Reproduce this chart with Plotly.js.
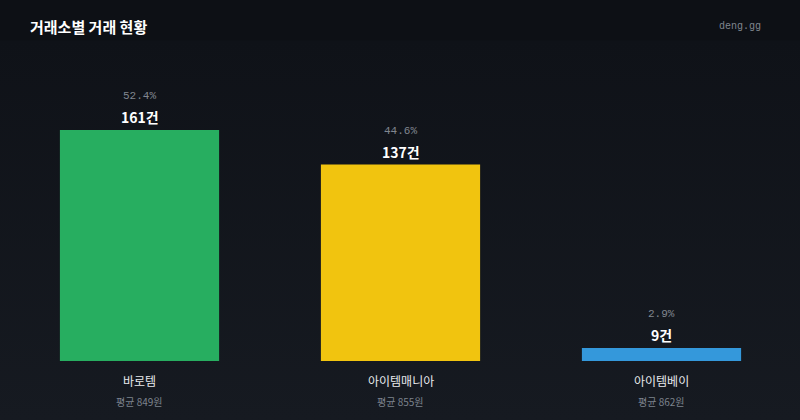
<!DOCTYPE html>
<html><head><meta charset="utf-8">
<script src="https://cdn.plot.ly/plotly-3.0.1.min.js"></script>
<style>
html,body{margin:0;padding:0;width:800px;height:420px;overflow:hidden;
background:linear-gradient(180deg,#0d1015 0px,#0d1015 40px,#0f1218 41px,#161a21 420px);}
#chart{width:800px;height:420px;}
</style></head>
<body><div id="chart"></div>
<script>
const categories = ['바로템', '아이템매니아', '아이템베이'];
const counts = [161, 137, 9];
const shares = ['52.4%', '44.6%', '2.9%'];
const avgPrices = [849, 855, 862];
const barColors = ['#27ae60', '#f1c40f', '#3498db'];

const font = '"Noto Sans CJK KR", "Noto Sans", sans-serif';
const mono = '"Liberation Mono", "DejaVu Sans Mono", monospace';

const trace = {
  type: 'bar', x: categories, y: counts,
  marker: {color: barColors, line: {width: 0}},
  hoverinfo: 'none'
};

const annotations = [];
categories.forEach((c, i) => {
  annotations.push({x: c, y: counts[i], xref: 'x', yref: 'y', text: counts[i] + '건',
    showarrow: false, yanchor: 'middle', yshift: 13,
    font: {family: font, size: 14, color: '#ffffff', weight: 'bold'}});
  annotations.push({x: c, y: counts[i], xref: 'x', yref: 'y', text: shares[i],
    showarrow: false, yanchor: 'middle', yshift: 34,
    font: {family: mono, size: 11, color: '#80868f'}});
  annotations.push({x: c, y: 0, xref: 'x', yref: 'paper', text: c,
    showarrow: false, yanchor: 'middle', yshift: -19,
    font: {family: font, size: 12, color: '#e8eaed'}});
  annotations.push({x: c, y: 0, xref: 'x', yref: 'paper', text: '평균 ' + avgPrices[i] + '원',
    showarrow: false, yanchor: 'middle', yshift: -40,
    font: {family: font, size: 10, color: '#7d838d'}});
});
annotations.push({
  xref: 'paper', yref: 'paper', x: (763 - 9) / 783, y: 1 + 74 / 261, xanchor: 'right', yanchor: 'middle',
  text: 'deng.gg', showarrow: false, font: {family: mono, size: 10, color: '#80868f'}
});

const layout = {
  width: 800, height: 420,
  margin: {l: 9, r: 8, t: 100, b: 59},
  paper_bgcolor: 'rgba(0,0,0,0)', plot_bgcolor: 'rgba(0,0,0,0)',
  bargap: 0.39,
  showlegend: false,
  title: {text: '<b>거래소별 거래 현황</b>', x: 30 / 800, xanchor: 'left', xref: 'container',
    y: 1 - 28 / 420, yanchor: 'middle', yref: 'container',
    font: {family: font, size: 15, color: '#ffffff'}},
  xaxis: {type: 'category', range: [-0.5, 2.5], showticklabels: false, showgrid: false,
    zeroline: false, showline: false, ticks: ''},
  yaxis: {range: [0, 182], showticklabels: false, showgrid: false, zeroline: false,
    showline: false, ticks: ''},
  annotations: annotations
};
Plotly.newPlot('chart', [trace], layout, {staticPlot: true, displayModeBar: false});
</script></body></html>
